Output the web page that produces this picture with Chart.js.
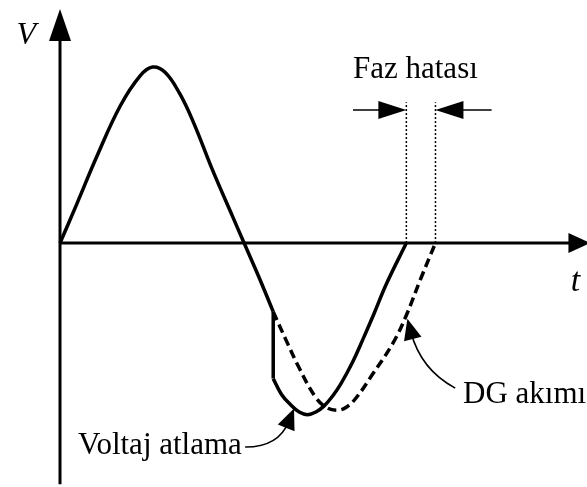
<!DOCTYPE html>
<html>
<head>
<meta charset="utf-8">
<script src="https://cdn.jsdelivr.net/npm/chart.js@4.4.1/dist/chart.umd.min.js"></script>
<style>
  body { margin: 0; background: #fff; }
  canvas { display: block; }
</style>
</head>
<body>
<canvas id="waveChart" width="587" height="487"></canvas>
<script>
// t in electrical degrees, V in per-unit of the peak
const riseT = [0, 16, 36, 58, 77, 89, 101, 115, 128, 147, 166, 177, 191, 205];
const riseV = [0, 0.22, 0.5, 0.78, 0.95, 1.0, 0.97, 0.85, 0.69, 0.41, 0.15, 0, -0.19, -0.39];

const jumpT = [205, 205];
const jumpV = [-0.39, -0.77];

const shiftedT = [205, 213, 222, 230, 238, 246, 254, 262, 270, 281, 291, 302, 314, 333];
const shiftedV = [-0.77, -0.86, -0.92, -0.96, -0.975, -0.96, -0.925, -0.87, -0.8, -0.68, -0.55, -0.4, -0.23, 0];

const dgT = [205, 218, 230, 245, 255, 266, 276, 286, 300, 320, 333, 347, 361];
const dgV = [-0.39, -0.56, -0.71, -0.87, -0.93, -0.95, -0.93, -0.87, -0.75, -0.57, -0.41, -0.2, 0];

// phase error: zero crossings of the jumped voltage and of the DG current
const zeroCrossings = [333, 361];

const pts = (ts, vs) => ts.map((t, i) => ({ x: t, y: vs[i] }));

function arrowHead(ctx, x, y, angle, len, half) {
  ctx.save();
  ctx.translate(x, y);
  ctx.rotate(angle);
  ctx.beginPath();
  ctx.moveTo(0, 0);
  ctx.lineTo(-len, -half);
  ctx.lineTo(-len, half);
  ctx.closePath();
  ctx.fill();
  ctx.restore();
}

const sketchPlugin = {
  id: 'sketch',
  beforeDatasetsDraw(chart) {
    const { ctx, scales: { x, y } } = chart;
    const x0 = x.getPixelForValue(0);
    const y0 = y.getPixelForValue(0);
    ctx.save();
    ctx.strokeStyle = '#000';
    ctx.fillStyle = '#000';
    ctx.lineWidth = 3;

    // vertical axis
    const vTip = y.getPixelForValue(1.33);
    ctx.beginPath();
    ctx.moveTo(x0, y.getPixelForValue(-1.37));
    ctx.lineTo(x0, vTip + 20);
    ctx.stroke();
    arrowHead(ctx, x0, vTip, -Math.PI / 2, 32, 11);

    // horizontal axis
    const hTip = x.getPixelForValue(510);
    ctx.beginPath();
    ctx.moveTo(x0, y0);
    ctx.lineTo(hTip - 12, y0);
    ctx.stroke();
    arrowHead(ctx, hTip, y0, 0, 22, 10);

    // dotted markers at the two zero crossings
    ctx.lineWidth = 1.5;
    ctx.setLineDash([2, 2]);
    zeroCrossings.forEach(t => {
      ctx.beginPath();
      ctx.moveTo(x.getPixelForValue(t), y0);
      ctx.lineTo(x.getPixelForValue(t), y.getPixelForValue(0.80));
      ctx.stroke();
    });
    ctx.restore();
  },
  afterDraw(chart) {
    const { ctx, scales: { x, y } } = chart;
    const px = t => x.getPixelForValue(t);
    const py = v => y.getPixelForValue(v);
    ctx.save();
    ctx.fillStyle = '#000';
    ctx.strokeStyle = '#000';
    ctx.textBaseline = 'alphabetic';

    // axis names
    ctx.font = 'italic 32px "Liberation Serif"';
    ctx.textAlign = 'right';
    ctx.fillText('V', px(-23), py(1.13));
    ctx.textAlign = 'left';
    ctx.font = 'italic 34px "Liberation Serif"';
    ctx.fillText('t', px(491), py(-0.27));

    // labels
    ctx.font = '31px "Liberation Serif"';
    ctx.fillText('Faz hatası', px(281.7), py(0.9375));
    ctx.fillText('DG akımı', px(387.5), py(-0.909));
    ctx.fillText('Voltaj atlama', px(17.3), py(-1.2));

    // phase error arrows
    const ay = py(0.756);
    ctx.lineWidth = 1.5;
    ctx.beginPath();
    ctx.moveTo(px(281.7), ay);
    ctx.lineTo(px(333) - 20, ay);
    ctx.moveTo(px(415), ay);
    ctx.lineTo(px(361) + 20, ay);
    ctx.stroke();
    arrowHead(ctx, px(333), ay, 0, 28, 9);
    arrowHead(ctx, px(361), ay, Math.PI, 28, 9);

    // curved callouts
    const callout = (s, c, e) => {
      const sx = px(s[0]), sy = py(s[1]);
      const cx = px(c[0]), cy = py(c[1]);
      const ex = px(e[0]), ey = py(e[1]);
      const ang = Math.atan2(ey - cy, ex - cx);
      const bx = ex - Math.cos(ang) * 14, by = ey - Math.sin(ang) * 14;
      ctx.lineWidth = 1.6;
      ctx.beginPath();
      ctx.moveTo(sx, sy);
      ctx.quadraticCurveTo(cx, cy, bx, by);
      ctx.stroke();
      arrowHead(ctx, ex, ey, ang, 21, 9);
    };
    callout([178, -1.159], [210, -1.16], [225, -0.94]);
    callout([380, -0.824], [347, -0.72], [334, -0.43]);
    ctx.restore();
  }
};

const solid = { borderColor: '#000', borderWidth: 3.5, pointRadius: 0, tension: 0.4, fill: false };

new Chart(document.getElementById('waveChart').getContext('2d'), {
  type: 'line',
  data: {
    datasets: [
      { ...solid, data: pts(riseT, riseV) },
      { ...solid, data: pts(jumpT, jumpV), tension: 0 },
      { ...solid, data: pts(shiftedT, shiftedV) },
      { ...solid, data: pts(dgT, dgV), borderDash: [9, 5] }
    ]
  },
  options: {
    responsive: false,
    animation: false,
    layout: { padding: 0 },
    plugins: { legend: { display: false }, tooltip: { enabled: false } },
    scales: {
      x: { type: 'linear', display: false, min: -57.7, max: 506.7 },
      y: { type: 'linear', display: false, min: -1.386, max: 1.381 }
    }
  },
  plugins: [sketchPlugin]
});
</script>
</body>
</html>
